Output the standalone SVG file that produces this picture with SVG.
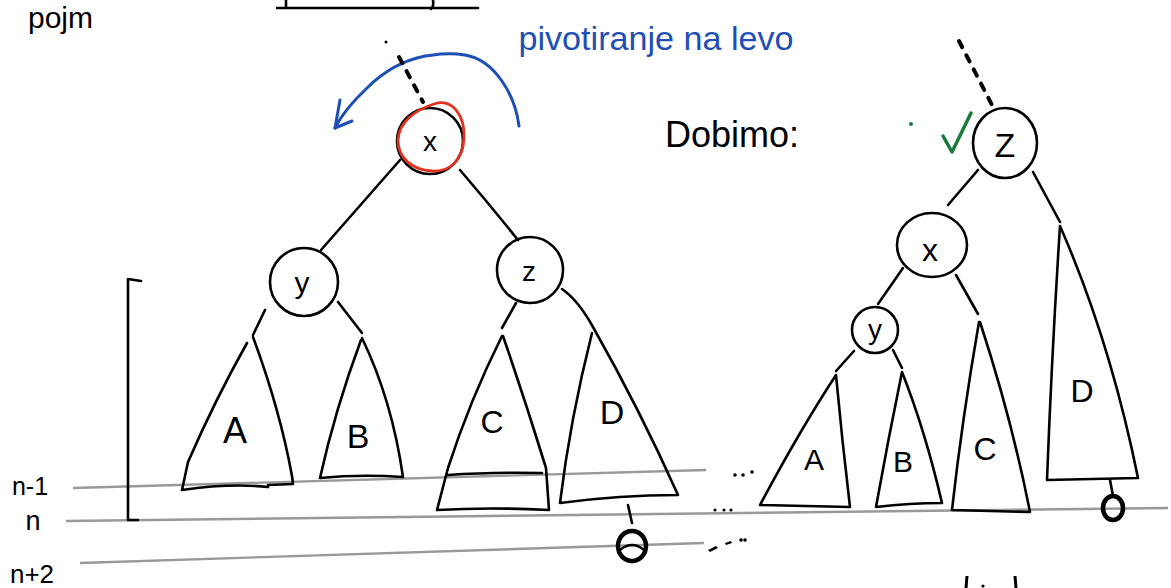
<svg xmlns="http://www.w3.org/2000/svg" width="1171" height="588" viewBox="0 0 1171 588">
<style>
.ink{fill:none;stroke:#000;stroke-width:2.6;stroke-linecap:round;stroke-linejoin:round}
.dash{fill:none;stroke:#000;stroke-width:4;stroke-linecap:round;stroke-dasharray:7 9}
.grid{fill:none;stroke:#999;stroke-width:2.4}
.lbl{font-family:"Liberation Sans",Arial,sans-serif;fill:#000;text-anchor:middle}
.blue{fill:none;stroke:#1f4fb5;stroke-width:3;stroke-linecap:round;stroke-linejoin:round}
</style>
<rect width="1171" height="588" fill="#fff"/>

<!-- top fragment -->
<g id="top-fragment">
<text x="28" y="28" class="lbl" style="text-anchor:start;font-size:30px">pojm</text>
<path class="ink" d="M277 8 L478 8 M286 0 L286 8 M433 0 Q434 7 431 9"/>
</g>

<!-- level lines -->
<g id="levels">
<line class="grid" x1="73" y1="488" x2="706" y2="470"/>
<line class="grid" x1="66" y1="521" x2="1168" y2="508"/>
<line class="grid" x1="80" y1="563" x2="704" y2="543"/>
<text x="30" y="495" class="lbl" style="font-size:25px">n-1</text>
<text x="33" y="530" class="lbl" style="font-size:27px">n</text>
<text x="32" y="583" class="lbl" style="font-size:26px">n+2</text>
<path class="ink" d="M128 279 L128 520 L138 520 M128 279 L141 281"/>
<g fill="#000">
<circle cx="735" cy="475" r="1.8"/><circle cx="743" cy="475" r="1.8"/><circle cx="752" cy="472" r="1.8"/>
<circle cx="715" cy="510" r="1.6"/><circle cx="724" cy="510" r="1.6"/><circle cx="731" cy="510" r="1.6"/>
<path d="M708 550 L716 546 L718 548 L710 552Z"/><path d="M725 543 L731 541 L732 543 L726 545Z"/><circle cx="741" cy="540" r="1.8"/><circle cx="745" cy="540" r="1.8"/>
</g>
</g>

<!-- rotation annotation -->
<g id="rotation-label">
<path class="blue" d="M519 126 C 515 95, 495 60, 465 55 C 445 52, 435 55, 425 56 C 405 60, 385 70, 367 88 C 350 104, 340 118, 335 128"/>
<path class="blue" d="M340 100 L335 128 L352 121"/>
<text x="656" y="50" style="font-family:'Liberation Sans',Arial,sans-serif;font-size:34px;fill:#1f4fb5;text-anchor:middle" textLength="275" lengthAdjust="spacingAndGlyphs">pivotiranje na levo</text>
</g>

<g id="dobimo">
<text x="732" y="147" class="lbl" style="font-size:36px">Dobimo:</text>
<path d="M943 136 L952 152 L971 113" fill="none" stroke="#1a7a3a" stroke-width="3.5" stroke-linecap="round" stroke-linejoin="round"/>
<circle cx="911" cy="124" r="2" fill="#1a7a3a"/>
</g>

<!-- connectors -->
<g id="connectors">
<line class="dash" x1="399" y1="57" x2="423" y2="102"/>
<circle cx="386" cy="42" r="1.5" fill="#000"/>
<path class="ink" d="M400 160 L321 250"/>
<path class="ink" d="M460 170 Q490 205 518 240"/>
<path class="ink" d="M265 310 L253 335"/>
<path class="ink" d="M338 302 L362 333"/>
<path class="ink" d="M516 303 L502 328"/>
<line class="dash" x1="959" y1="41" x2="993" y2="107"/>
<path class="ink" d="M978 170 L948 205"/>
<path class="ink" d="M1033 172 Q1048 200 1060 222"/>
<path class="ink" d="M903 268 L878 304"/>
<path class="ink" d="M956 275 L978 314"/>
<path class="ink" d="M854 351 L836 371"/>
<path class="ink" d="M893 350 L902 368"/>
<path class="ink" d="M628 505 L632 523"/>
<path class="ink" d="M1110 480 L1113 496"/>
</g>

<!-- left tree -->
<g id="node-x-left">
<circle class="ink" cx="430" cy="141" r="33"/>
<path d="M434 104 C 452 98, 465 115, 464 138 C 463 160, 450 172, 432 171 C 412 170, 398 158, 398 140 C 399 122, 415 110, 434 104 Z" fill="none" stroke="#e0331f" stroke-width="2.8"/>
<text x="430" y="151" class="lbl" style="font-size:28px">x</text>
</g>
<g id="node-y-left">
<circle class="ink" cx="304" cy="282" r="34"/>
<text x="302" y="293" class="lbl" style="font-size:30px">y</text>
</g>
<g id="node-z-left">
<circle class="ink" cx="530" cy="270" r="33"/>
<text x="529" y="281" class="lbl" style="font-size:28px">z</text>
</g>
<g id="tree-A-left">
<path class="ink" d="M247 343 Q215 400 188 462 L182 490 Q230 483 268 487 M253 337 Q280 410 292 476 L293 484 L268 485"/>
<text x="235" y="443" class="lbl" style="font-size:36px">A</text>
</g>
<g id="tree-B-left">
<path class="ink" d="M361 340 Q335 410 320 478 Q360 474 403 477 Q392 400 362 338"/>
<text x="358" y="448" class="lbl" style="font-size:34px">B</text>
</g>
<g id="tree-C-left">
<path class="ink" d="M502 336 Q470 400 448 468 L437 510 Q490 507 549 510 L546 468 M503 336 Q525 400 546 468 M448 475 Q490 472 542 473"/>
<text x="492" y="433" class="lbl" style="font-size:32px">C</text>
</g>
<g id="tree-D-left">
<path class="ink" d="M592 333 Q570 420 560 503 Q620 495 678 495 Q640 410 593 327 Q578 300 562 289"/>
<text x="612" y="424" class="lbl" style="font-size:34px">D</text>
</g>
<g id="leaf-left">
<ellipse cx="632" cy="546" rx="14" ry="15" fill="none" stroke="#000" stroke-width="4.5"/>
<path d="M620 550 Q632 540 644 550" fill="none" stroke="#000" stroke-width="2.5"/>
</g>

<!-- right tree -->
<g id="node-z-right">
<ellipse class="ink" cx="1005" cy="143" rx="32" ry="35"/>
<text x="1005" y="157" class="lbl" style="font-size:34px">Z</text>
</g>
<g id="node-x-right">
<ellipse class="ink" cx="932" cy="245" rx="35" ry="32"/>
<text x="930" y="261" class="lbl" style="font-size:32px">x</text>
</g>
<g id="node-y-right">
<circle class="ink" cx="875" cy="330" r="23"/>
<text x="875" y="339" class="lbl" style="font-size:28px">y</text>
</g>
<g id="tree-A-right">
<path class="ink" d="M836 375 Q800 430 760 505 L850 507 Q842 440 836 375"/>
<text x="814" y="470" class="lbl" style="font-size:30px">A</text>
</g>
<g id="tree-B-right">
<path class="ink" d="M902 372 Q888 440 876 507 Q910 503 942 503 Q925 430 902 372"/>
<text x="903" y="472" class="lbl" style="font-size:30px">B</text>
</g>
<g id="tree-C-right">
<path class="ink" d="M979 322 Q962 420 952 510 L1030 512 Q1012 420 980 322"/>
<text x="985" y="460" class="lbl" style="font-size:32px">C</text>
</g>
<g id="tree-D-right">
<path class="ink" d="M1060 226 Q1052 350 1047 480 L1138 478 Q1110 340 1060 226"/>
<text x="1082" y="402" class="lbl" style="font-size:32px">D</text>
</g>
<g id="leaf-right">
<ellipse cx="1113" cy="508" rx="10" ry="12" fill="none" stroke="#000" stroke-width="4.5"/>
</g>

<g id="bottom-fragment" fill="#000">
<path d="M967 576 L966 588" stroke="#000" stroke-width="3"/>
<circle cx="983" cy="586" r="1.6"/>
<path d="M1015 576 L1016 588" stroke="#000" stroke-width="3"/>
</g>
</svg>
